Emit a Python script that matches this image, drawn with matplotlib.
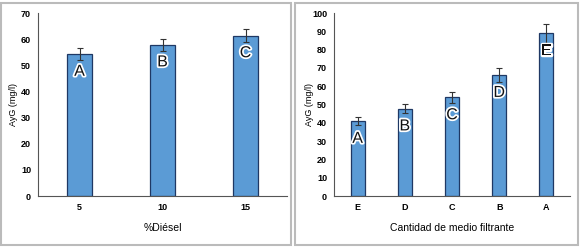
import matplotlib.pyplot as plt
import matplotlib.patheffects as pe
from matplotlib.patches import Rectangle

# Data
diesel = ['5', '10', '15']
diesel_vals = [54.2, 57.8, 61.3]
diesel_err = [2.3, 2.2, 2.5]
diesel_letters = ['A', 'B', 'C']

medio = ['E', 'D', 'C', 'B', 'A']
medio_vals = [41.0, 47.8, 53.9, 66.1, 88.8]
medio_err = [2.3, 2.3, 3.0, 4.0, 5.0]
medio_letters = ['A', 'B', 'C', 'D', 'E']

W, H = 580, 247
fig = plt.figure(figsize=(W / 100, H / 100), dpi=100)
plt.rcParams['font.family'] = ['Liberation Sans', 'DejaVu Sans']

bar_color = '#5B9BD5'
edge_color = '#1F3864'


def panel(rect, cats, vals, errs, letters, ymax, xlabel, offset):
    ax = fig.add_axes(rect)
    x = range(len(cats))
    ax.bar(x, vals, width=0.3, color=bar_color, edgecolor=edge_color, linewidth=0.9,
           yerr=errs, error_kw=dict(ecolor='#333333', elinewidth=0.8, capsize=2, capthick=0.8))
    for i, (v, l) in enumerate(zip(vals, letters)):
        ax.text(i, v - offset, l, ha='center', va='center', fontsize=11.5, color='#111111',
                path_effects=[pe.withStroke(linewidth=2.5, foreground='white')])
    ax.set_xlim(-0.5, len(cats) - 0.5)
    ax.set_ylim(0, ymax)
    ax.set_yticks(range(0, ymax + 1, 10))
    ax.tick_params(axis='both', labelsize=6.5, length=0, pad=5)
    ax.set_xticks(list(x))
    ax.set_xticklabels(cats)
    for t in ax.get_xticklabels() + ax.get_yticklabels():
        t.set_fontweight('bold')
    ax.set_ylabel('AyG (mg/l)', fontsize=6.5)
    ax.yaxis.set_label_coords(-20 / (rect[2] * W), 0.5)
    ax.set_xlabel(xlabel, fontsize=7.5, labelpad=8)
    for s in ['top', 'right']:
        ax.spines[s].set_visible(False)
    for s in ['left', 'bottom']:
        ax.spines[s].set_color('#555555')
        ax.spines[s].set_linewidth(0.8)
    return ax


panel([38 / W, 1 - 196 / H, 249 / W, 183 / H], diesel, diesel_vals, diesel_err,
      diesel_letters, 70, '%Diésel', 6.5)
panel([334 / W, 1 - 196 / H, 236 / W, 183 / H], medio, medio_vals, medio_err,
      medio_letters, 100, 'Cantidad de medio filtrante', 9.5)

# panel frames
for x0, x1 in [(1, 291), (295, 578)]:
    fig.add_artist(Rectangle((x0 / W, 2 / H), (x1 - x0) / W, 242 / H, transform=fig.transFigure,
                             fill=False, edgecolor='#BBBBBB', linewidth=1.5))

fig.savefig('out.png', dpi=100)
